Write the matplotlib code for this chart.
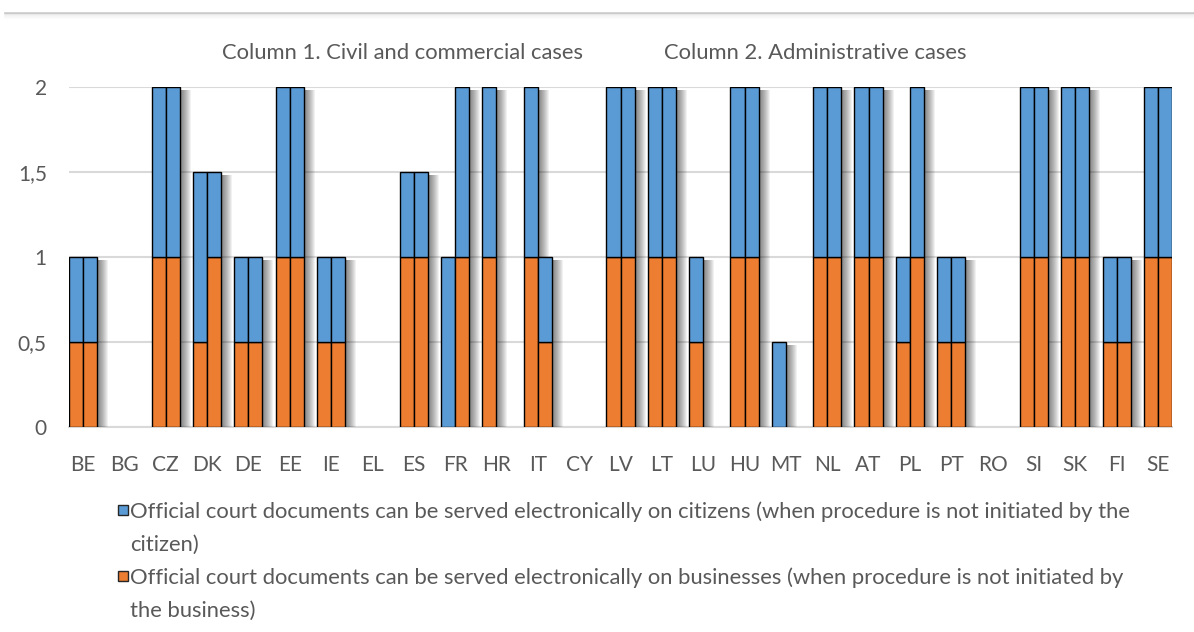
import textwrap
import numpy as np
import matplotlib
matplotlib.use("Agg")
import matplotlib.pyplot as plt
from matplotlib.lines import Line2D
from matplotlib.patches import Rectangle

# ---------------- data ----------------
categories = ["BE", "BG", "CZ", "DK", "DE", "EE", "IE", "EL", "ES", "FR", "HR", "IT", "CY",
              "LV", "LT", "LU", "HU", "MT", "NL", "AT", "PL", "PT", "RO", "SI", "SK", "FI", "SE"]

# Column 1: civil and commercial cases
civil_business = [0.5, 0, 1, 0.5, 0.5, 1, 0.5, 0, 1, 0, 1, 1, 0,
                  1, 1, 0.5, 1, 0, 1, 1, 0.5, 0.5, 0, 1, 1, 0.5, 1]
civil_citizens = [0.5, 0, 1, 1, 0.5, 1, 0.5, 0, 0.5, 1, 1, 1, 0,
                  1, 1, 0.5, 1, 0.5, 1, 1, 0.5, 0.5, 0, 1, 1, 0.5, 1]
# Column 2: administrative cases
admin_business = [0.5, 0, 1, 1, 0.5, 1, 0.5, 0, 1, 1, 0, 0.5, 0,
                  1, 1, 0, 1, 0, 1, 1, 1, 0.5, 0, 1, 1, 0.5, 1]
admin_citizens = [0.5, 0, 1, 0.5, 0.5, 1, 0.5, 0, 0.5, 1, 0, 0.5, 0,
                  1, 1, 0, 1, 0, 1, 1, 1, 0.5, 0, 1, 1, 0.5, 1]

yticks = [0, 0.5, 1, 1.5, 2]
ytick_labels = ["0", "0,5", "1", "1,5", "2"]

column_labels = ["Column 1. Civil and commercial cases", "Column 2. Administrative cases"]
series_labels = [
    "Official court documents can be served electronically on citizens (when procedure is not initiated by the citizen)",
    "Official court documents can be served electronically on businesses (when procedure is not initiated by the business)",
]

# ---------------- style ----------------
BLUE = "#5B9BD5"
ORANGE = "#ED7D31"
TEXT = "#595959"
GRID = "#D9D9D9"
plt.rcParams["font.family"] = ["Lato", "DejaVu Sans"]
FS_TICK = 15
FS_TEXT = 15.8

W_PX, H_PX = 1194, 632
fig = plt.figure(figsize=(W_PX / 100, H_PX / 100), dpi=100)
ax = fig.add_axes([69 / W_PX, 1 - 427 / H_PX, (1172 - 69) / W_PX, (427 - 87) / H_PX])

n = len(categories)
x = np.arange(n)
w = 0.34
xc = x - w / 2
xa = x + w / 2
ax.set_xlim(-w, n - 1 + w)
ax.set_ylim(0, 2)

cb = np.array(civil_business, dtype=float); cc = np.array(civil_citizens, dtype=float)
ab = np.array(admin_business, dtype=float); ac = np.array(admin_citizens, dtype=float)

# soft shadow (Excel outer shadow imitation): translucent grey bars shifted right pixel by pixel
px_x = (n - 1 + 2 * w) / (1172 - 69)
px_y = 2 / (427 - 87)
for xs, tot in ((xc, cb + cc), (xa, ab + ac)):
    heights = np.where(tot > 0, tot - 3 * px_y, 0)
    for k in range(1, 12):
        ax.bar(xs + k * px_x, heights, width=w, color="black", alpha=0.055,
               linewidth=0, zorder=2)


def ec(vals):
    return ["black" if v > 0 else "none" for v in vals]


kw = dict(width=w, linewidth=1.0, zorder=3)
ax.bar(xc, cb, color=ORANGE, edgecolor=ec(cb), **kw)
ax.bar(xc, cc, bottom=cb, color=BLUE, edgecolor=ec(cc), **kw)
ax.bar(xa, ab, color=ORANGE, edgecolor=ec(ab), **kw)
ax.bar(xa, ac, bottom=ab, color=BLUE, edgecolor=ec(ac), **kw)

ax.set_yticks(yticks)
ax.set_yticklabels(ytick_labels)
ax.set_xticks(x)
ax.set_xticklabels(categories)
ax.tick_params(axis="both", length=0, labelsize=FS_TICK, labelcolor=TEXT)
ax.tick_params(axis="x", pad=20)
ax.tick_params(axis="y", pad=16)
ax.yaxis.grid(True, color=GRID, linewidth=1.5, zorder=0)
ax.set_axisbelow(True)
for s in ("top", "right", "left"):
    ax.spines[s].set_visible(False)
ax.spines["bottom"].set_color(GRID)
ax.spines["bottom"].set_linewidth(1.5)
ax.spines["bottom"].set_zorder(0)

# column annotations
fig.text(402 / W_PX, 1 - 53 / H_PX, column_labels[0], ha="center", va="center",
         fontsize=FS_TEXT, color=TEXT)
fig.text(815 / W_PX, 1 - 53 / H_PX, column_labels[1], ha="center", va="center",
         fontsize=FS_TEXT, color=TEXT)

# header rule with shadow at the top
for k in range(6):
    fig.add_artist(Line2D([5 / W_PX, 1], [1 - (13 + k) / H_PX] * 2, transform=fig.transFigure,
                          color="#808080", alpha=0.4 if k == 0 else 0.14 / k, linewidth=1.2))

# legend (manual, Excel-like wrapping)
leg_colors = [BLUE, ORANGE]
leg_y = [510, 576]
for lab, col, yy in zip(series_labels, leg_colors, leg_y):
    fig.add_artist(Rectangle((118 / W_PX, 1 - (yy + 5) / H_PX), 10 / W_PX, 10 / H_PX,
                             transform=fig.transFigure, facecolor=col, edgecolor="#262626",
                             linewidth=1.0))
    for j, ln in enumerate(textwrap.wrap(lab, 106)):
        fig.text(130 / W_PX, 1 - (yy + 33 * j) / H_PX, ln, ha="left", va="center_baseline",
                 fontsize=FS_TEXT, color=TEXT)

fig.savefig("out.png", dpi=100)
